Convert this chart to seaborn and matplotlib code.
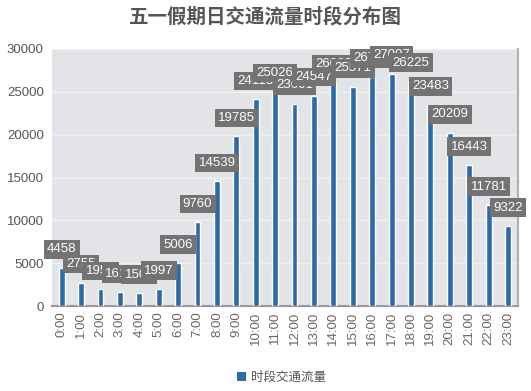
import matplotlib
matplotlib.use("Agg")
import matplotlib.pyplot as plt
import seaborn as sns
import pandas as pd
from matplotlib.patches import Patch

hours = [f"{h}:00" for h in range(24)]
values = [4458, 2755, 1958, 1610, 1508, 1997, 5006, 9760, 14539, 19785,
          24113, 25026, 23601, 24547, 26083, 25571, 26722, 27097, 26225,
          23483, 20209, 16443, 11781, 9322]
series_name = "时段交通流量"
title = "五一假期日交通流量时段分布图"
yticks = [0, 5000, 10000, 15000, 20000, 25000, 30000]

sns.set_theme(style="white")
plt.rcParams['font.family'] = ['Liberation Sans', 'Noto Sans CJK SC', 'DejaVu Sans']

df = pd.DataFrame({"hour": hours, "value": values})

fig = plt.figure(figsize=(5.31, 3.91), dpi=100)
ax = fig.add_axes([0.098, 0.217, 0.877, 0.658])
ax.set_facecolor("#e3e4e7")

sns.barplot(data=df, x="hour", y="value", color="#2e6aa8", saturation=1,
            width=0.3, ax=ax, zorder=3)

ax.set_ylim(0, 30000)
ax.set_yticks(yticks)
ax.set_yticklabels([str(v) for v in yticks], fontsize=9.5, color="#555555")
ax.yaxis.grid(True, color="#f0f0f0", linewidth=1.0, zorder=0)
ax.set_axisbelow(True)
ax.set_xlim(-0.5, 23.5)
ax.set_xlabel("")
ax.set_ylabel("")
ax.tick_params(axis="x", rotation=90, labelsize=9.5, labelcolor="#666666", length=0, pad=4)
ax.tick_params(axis="y", length=0, pad=6)

for s in ["top", "left"]:
    ax.spines[s].set_visible(False)
ax.spines["bottom"].set_color("#9a9a9a")
ax.spines["bottom"].set_linewidth(1.5)
ax.spines["right"].set_color("#b0b0b0")
ax.spines["right"].set_linewidth(1.5)

for c in ax.containers:
    ax.bar_label(c, labels=[str(v) for v in values], padding=9, fontsize=9.5,
                 color="white", zorder=5,
                 bbox=dict(boxstyle="square,pad=0.25", facecolor="#737373",
                           edgecolor="none"))

fig.text(0.5, 0.958, title, ha="center", va="center", fontsize=14,
         fontweight="bold", color="#555555",
         family=['Noto Sans CJK SC', 'DejaVu Sans'])

handle = Patch(facecolor="#2e6aa8", edgecolor="none", label=series_name)
leg = fig.legend(handles=[handle], loc="center", bbox_to_anchor=(0.53, 0.035),
                 frameon=False, handlelength=0.7, handleheight=0.7,
                 handletextpad=0.4,
                 prop={"family": ['Noto Sans CJK SC', 'DejaVu Sans'], "size": 9})
for t in leg.get_texts():
    t.set_color("#555555")

fig.savefig("out.png", dpi=100)
